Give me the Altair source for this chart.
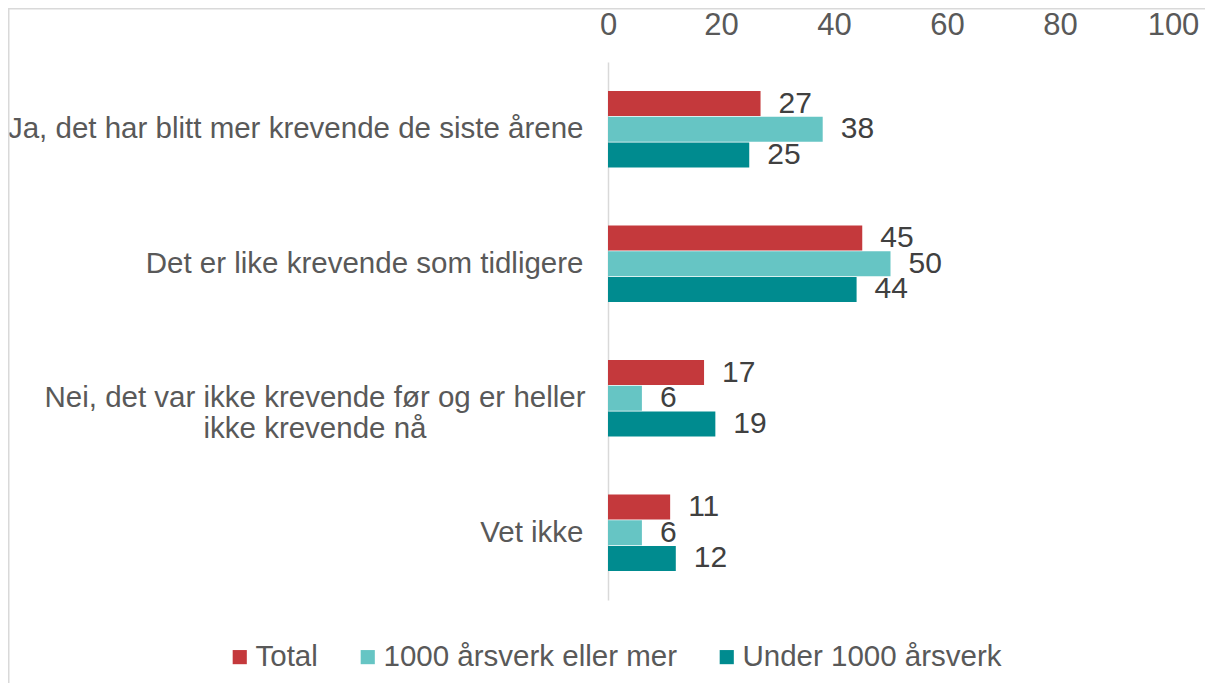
import altair as alt
import pandas as pd

categories = [
    "Ja, det har blitt mer krevende de siste årene",
    "Det er like krevende som tidligere",
    "Nei, det var ikke krevende før og er heller ikke krevende nå",
    "Vet ikke",
]
long_label_lines = "Nei, det var ikke krevende før og er heller\nikke krevende nå"
series = ["Total", "1000 årsverk eller mer", "Under 1000 årsverk"]
total = [27, 45, 17, 11]
large = [38, 50, 6, 6]
small = [25, 44, 19, 12]
colors = ["#C4393C", "#66C5C4", "#008B8F"]
ticks = [0, 20, 40, 60, 80, 100]

rows = []
for i, c in enumerate(categories):
    for s, vals in zip(series, [total, large, small]):
        rows.append({"kategori": c, "gruppe": s, "verdi": vals[i]})
df = pd.DataFrame(rows)

FONT = "Liberation Sans"
FS = 29.5
label_expr = "datum.value == '" + categories[2] + "' ? '' : datum.value"

W, H = 565, 538
PAD_L, PAD_T = 600, 54
PAD_R = 1197 - PAD_L - W
PAD_B = 675 - PAD_T - H

frame = alt.Chart(pd.DataFrame({"a": [0]})).mark_rect(
    fill="transparent", stroke="#D9D9D9", strokeWidth=1.5
).encode(
    x=alt.value(-PAD_L + 0.75), x2=alt.value(W + PAD_R + 50),
    y=alt.value(-PAD_T + 0.75), y2=alt.value(H + PAD_B + 50),
)

yenc = alt.Y(
    "kategori:N", sort=categories, title=None,
    scale=alt.Scale(paddingInner=0.427, paddingOuter=0.2135),
    axis=alt.Axis(
        orient="left", domain=True, domainColor="#D9D9D9", domainWidth=1.5,
        ticks=False, labelPadding=25, labelFontSize=FS, labelColor="#595959",
        labelFont=FONT, labelLimit=700, labelExpr=label_expr,
    ),
)

base = alt.Chart(df).encode(
    y=yenc,
    yOffset=alt.YOffset("gruppe:N", sort=series),
)

bars = base.mark_bar(size=25).encode(
    x=alt.X(
        "verdi:Q", title=None,
        scale=alt.Scale(domain=[0, 100], nice=False),
        axis=alt.Axis(
            orient="top", values=ticks, domain=False, ticks=False, grid=False,
            labelFontSize=31, labelColor="#595959", labelFont=FONT,
            labelPadding=21, labelFlush=False,
        ),
    ),
    color=alt.Color(
        "gruppe:N", sort=series, title=None,
        scale=alt.Scale(domain=series, range=colors),
        legend=alt.Legend(
            orient="none", direction="horizontal", legendX=-383, legendY=580,
            symbolType="square", symbolSize=200, symbolStrokeWidth=0,
            labelFontSize=29.5, labelColor="#595959", labelFont=FONT,
            columnPadding=35, labelOffset=1, labelLimit=500,
        ),
    ),
)

labels = base.mark_text(
    align="left", baseline="middle", dx=18, fontSize=30, color="#404040", font=FONT
).encode(
    x=alt.X("verdi:Q"),
    text=alt.Text("verdi:Q"),
)

long_label = alt.Chart(
    pd.DataFrame({"kategori": [categories[2]], "tekst": [long_label_lines]})
).mark_text(
    align="center", baseline="middle", fontSize=FS, color="#595959", font=FONT,
    lineBreak="\n", lineHeight=31,
).encode(
    y=alt.Y("kategori:N", sort=categories),
    x=alt.value(-293),
    text="tekst:N",
)

chart = alt.layer(frame, bars, labels, long_label).properties(
    width=W, height=H,
    autosize=alt.AutoSizeParams(type="none"),
    padding={"left": PAD_L, "top": PAD_T, "right": PAD_R, "bottom": PAD_B},
).configure(background="white").configure_view(strokeWidth=0, stroke="transparent")

chart.save("out.html", embed_options={"renderer": "svg", "actions": False})
